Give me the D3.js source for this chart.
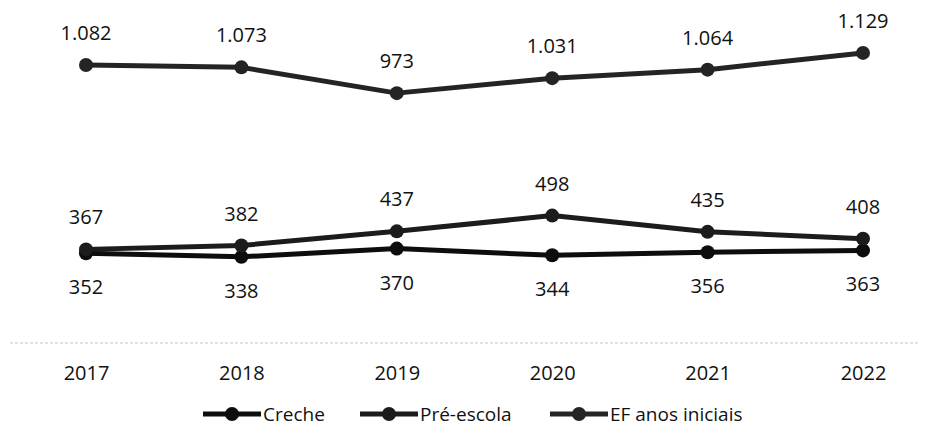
<!DOCTYPE html>
<html>
<head>
<meta charset="utf-8">
<script src="https://cdn.jsdelivr.net/npm/d3@7/dist/d3.min.js"></script>
<style>
  html, body { margin: 0; padding: 0; background: #fff; }
  svg { display: block; }
  text { font-family: "Open Sans", "Noto Sans", sans-serif; fill: #111; }
</style>
</head>
<body>
<svg id="chart" width="927" height="435"></svg>
<script>
// Enrolments by stage, 2017–2022
const years = ["2017", "2018", "2019", "2020", "2021", "2022"];
const creche = [352, 338, 370, 344, 356, 363];
const preEscola = [367, 382, 437, 498, 435, 408];
const efAnosIniciais = [1082, 1073, 973, 1031, 1064, 1129];
const seriesNames = ["Creche", "Pré-escola", "EF anos iniciais"];
const seriesColors = ["#0d0d0d", "#1c1c1c", "#242424"];

const series = [
  { name: seriesNames[0], values: creche, color: seriesColors[0], labelPos: "below" },
  { name: seriesNames[1], values: preEscola, color: seriesColors[1], labelPos: "above" },
  { name: seriesNames[2], values: efAnosIniciais, color: seriesColors[2], labelPos: "above" }
];

const svg = d3.select("#chart");

const x = d3.scalePoint().domain(years).range([86, 863]);
const y = d3.scaleLinear().domain([0, 1200]).range([344, 34.6]);

// pt-BR number format: dot as thousands separator
const fmt = d3.formatLocale({ decimal: ",", thousands: ".", grouping: [3], currency: ["R$", ""] }).format(",d");

// category axis baseline (faint dotted rule)
svg.append("line")
  .attr("x1", 10).attr("x2", 920)
  .attr("y1", y(0) - 1).attr("y2", y(0) - 1)
  .attr("stroke", "#c6c6c6")
  .attr("stroke-width", 1)
  .attr("stroke-dasharray", "3,2");

// year labels
const xAxis = d3.axisBottom(x).tickSize(0).tickPadding(0);
const gx = svg.append("g").attr("transform", `translate(0, ${y(0) + 29})`).call(xAxis);
gx.select(".domain").remove();
gx.selectAll("text")
  .attr("dy", "0.35em")
  .style("font-size", "20px")
  .style("font-family", '"Open Sans", sans-serif')
  .attr("fill", "#111");

const line = d3.line().x((d, i) => x(years[i])).y(d => y(d));

series.forEach(s => {
  const g = svg.append("g");
  g.append("path")
    .datum(s.values)
    .attr("d", line)
    .attr("fill", "none")
    .attr("stroke", s.color)
    .attr("stroke-width", 5)
    .attr("stroke-linejoin", "round");
  g.selectAll("circle")
    .data(s.values)
    .join("circle")
    .attr("cx", (d, i) => x(years[i]))
    .attr("cy", d => y(d))
    .attr("r", 7)
    .attr("fill", s.color);
});

// data labels
series.forEach(s => {
  svg.append("g").selectAll("text")
    .data(s.values)
    .join("text")
    .attr("x", (d, i) => x(years[i]))
    .attr("y", d => s.labelPos === "above" ? y(d) - 25 : y(d) + 41)
    .attr("text-anchor", "middle")
    .style("font-size", "20px")
    .text(d => fmt(d));
});

// legend
const legendItems = [
  { name: seriesNames[0], color: seriesColors[0], x: 203 },
  { name: seriesNames[1], color: seriesColors[1], x: 360 },
  { name: seriesNames[2], color: seriesColors[2], x: 550 }
];
const ly = 414;
const lg = svg.append("g");
legendItems.forEach(it => {
  lg.append("line")
    .attr("x1", it.x).attr("x2", it.x + 58)
    .attr("y1", ly).attr("y2", ly)
    .attr("stroke", it.color).attr("stroke-width", 5);
  lg.append("circle")
    .attr("cx", it.x + 29).attr("cy", ly).attr("r", 7)
    .attr("fill", it.color);
  lg.append("text")
    .attr("x", it.x + 60).attr("y", ly)
    .attr("dy", "0.35em")
    .style("font-size", "19px")
    .text(it.name);
});
</script>
</body>
</html>
